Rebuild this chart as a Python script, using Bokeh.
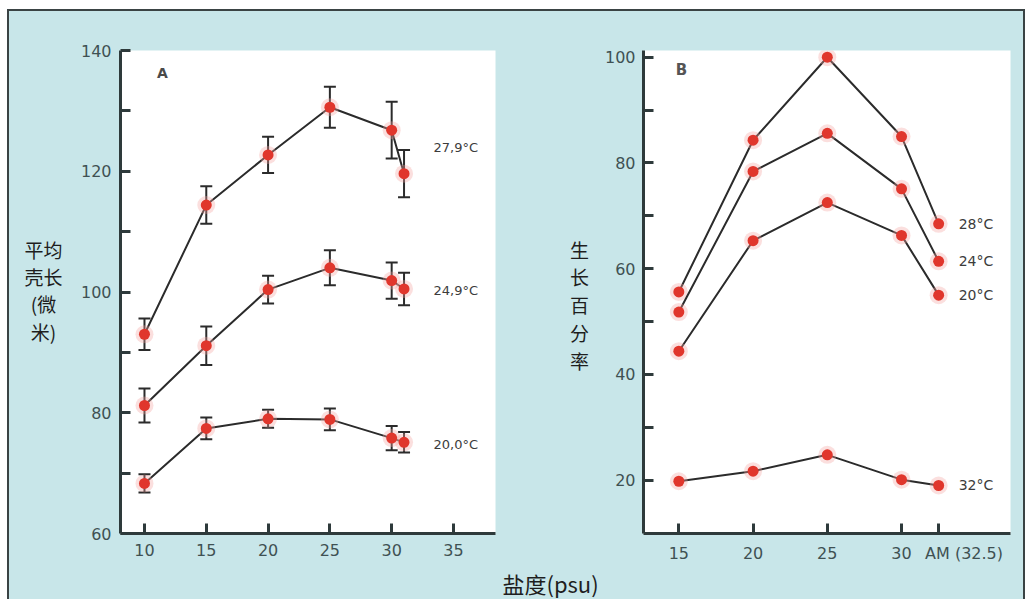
from bokeh.plotting import figure
from bokeh.layouts import row, column
from bokeh.models import (Range1d, FixedTicker, ColumnDataSource, Whisker, TeeHead,
                          Label, Div)
from bokeh.core.properties import value
from bokeh.embed import file_html
from bokeh.resources import INLINE

# ---- Panel A: mean shell length (µm) vs salinity, three temperatures ----
salinity_a = [10, 15, 20, 25, 30, 31]
len_279 = [93.0, 114.4, 122.7, 130.6, 126.8, 119.6]
err_279 = [2.6, 3.1, 3.0, 3.4, 4.7, 3.9]
len_249 = [81.2, 91.1, 100.4, 104.0, 101.9, 100.5]
err_249 = [2.8, 3.2, 2.3, 2.9, 3.0, 2.7]
len_200 = [68.3, 77.4, 79.0, 78.9, 75.8, 75.1]
err_200 = [1.5, 1.8, 1.5, 1.8, 2.0, 1.7]
temps_a = ["27,9°C", "24,9°C", "20,0°C"]
xticks_a = [10, 15, 20, 25, 30, 35]
yticks_a = [60, 80, 100, 120, 140]
yminor_a = [70, 90, 110, 130]

# ---- Panel B: growth percentage vs salinity, four temperatures ----
salinity_b = [15, 20, 25, 30, 32.5]
growth_28 = [55.6, 84.3, 100.0, 85.0, 68.5]
growth_24 = [51.8, 78.4, 85.6, 75.1, 61.4]
growth_20 = [44.4, 65.3, 72.5, 66.3, 55.0]
growth_32 = [19.8, 21.7, 24.8, 20.1, 19.0]
temps_b = ["28°C", "24°C", "20°C", "32°C"]
xticks_b = [15, 20, 25, 30, 32.5]
xlabels_b = ["15", "20", "25", "30", "AM (32.5)"]
yticks_b = [20, 40, 60, 80, 100]
yminor_b = [30, 50, 70, 90]

ylabel_a = ["平均", "壳长", "(微", "米)"]
ylabel_b = ["生", "长", "百", "分", "率"]
xlabel = "盐度(psu)"

BG = "#c8e6e9"
FRAME = "#3a4344"
DARK = "#2e3a3b"
LINE = "#2b2b2b"
RED = "#e0362c"
TICK_TXT = "#3f5153"
CJK = "Noto Sans CJK SC"
NUM = "DejaVu Sans"

TOP_H = 557      # height of the row holding both panels
STRIP_H = 31     # height of the strip carrying the shared x title


def style_axes(p):
    p.outline_line_color = None
    p.xgrid.visible = False
    p.ygrid.visible = False
    for ax in (p.xaxis[0], p.yaxis[0]):
        ax.axis_line_color = DARK
        ax.axis_line_width = 3
        ax.major_tick_line_color = DARK
        ax.major_tick_line_width = 3
        ax.minor_tick_line_color = DARK
        ax.minor_tick_line_width = 3
        ax.major_tick_in = 10
        ax.major_tick_out = 0
        ax.minor_tick_in = 10
        ax.minor_tick_out = 0
        ax.major_label_text_font = NUM
        ax.major_label_text_font_size = "16px"
        ax.major_label_text_color = TICK_TXT
    p.xaxis.major_label_standoff = 10
    p.yaxis.major_label_standoff = 9


def draw_series(p, xs, ys):
    p.line(xs, ys, line_color=LINE, line_width=2)
    p.scatter(xs, ys, size=18, fill_color="#f4a3a0", fill_alpha=0.35, line_color=None)
    p.scatter(xs, ys, size=11, fill_color=RED, line_color=None)


def text_panel(w, h, xs, ys, texts, size, align="center"):
    """A bare cyan canvas in pixel coordinates that only carries text."""
    f = figure(width=w, height=h, x_range=Range1d(0, w), y_range=Range1d(h, 0),
               min_border=0, toolbar_location=None, output_backend="svg",
               x_axis_location=None, y_axis_location=None,
               background_fill_color=BG, border_fill_color=BG)
    f.outline_line_color = None
    f.grid.visible = False
    f.text(x=xs, y=ys, text=texts, text_font=value(CJK), text_font_size=size,
           text_color="#1e1e1e", text_align=align, text_baseline="middle")
    return f


# ---------------- Panel A ----------------
pa = figure(width=490, height=TOP_H, x_range=Range1d(8.06, 38.4), y_range=Range1d(60, 140),
            output_backend="svg", toolbar_location=None,
            min_border_left=50, min_border_right=65, min_border_top=26, min_border_bottom=35,
            background_fill_color="white", border_fill_color=BG)
pa.xaxis.ticker = FixedTicker(ticks=xticks_a)
pa.yaxis.ticker = FixedTicker(ticks=yticks_a, minor_ticks=yminor_a)
style_axes(pa)

for ys, es in ((len_279, err_279), (len_249, err_249), (len_200, err_200)):
    src = ColumnDataSource(dict(x=salinity_a,
                                upper=[v + e for v, e in zip(ys, es)],
                                lower=[v - e for v, e in zip(ys, es)]))
    pa.add_layout(Whisker(source=src, base="x", upper="upper", lower="lower",
                          line_color=LINE, line_width=2,
                          upper_head=TeeHead(size=12, line_color=LINE, line_width=2),
                          lower_head=TeeHead(size=12, line_color=LINE, line_width=2)))
    draw_series(pa, salinity_a, ys)

src_ta = ColumnDataSource(dict(x=[33.38] * 3, y=[124.0, 100.3, 74.7], t=temps_a))
pa.text(x="x", y="y", text="t", source=src_ta, text_font=value(NUM), text_font_size="13px",
        text_color="#3c3c3c", text_baseline="middle", text_align="left")

pa.add_layout(Label(x=11.46, y=136.3, text="A", text_font=NUM, text_font_size="14px",
                    text_font_style="bold", text_color="#4a4a4a",
                    text_align="center", text_baseline="middle"))

# ---------------- Panel B ----------------
pb = figure(width=425, height=TOP_H, x_range=Range1d(12.62, 37.34), y_range=Range1d(9.92, 101.27),
            output_backend="svg", toolbar_location=None,
            min_border_left=45, min_border_right=13, min_border_top=39, min_border_bottom=35,
            background_fill_color="white", border_fill_color=BG)
pb.xaxis.ticker = FixedTicker(ticks=xticks_b)
pb.yaxis.ticker = FixedTicker(ticks=yticks_b, minor_ticks=yminor_b)
style_axes(pb)
pb.yaxis.major_label_standoff = 8
# the ambient-seawater label starts at its tick and runs to the right
pb.xaxis.major_label_overrides = {
    t: (lab if t != 32.5 else "\u00a0" * 10 + lab) for t, lab in zip(xticks_b, xlabels_b)
}

series_b = [growth_28, growth_24, growth_20, growth_32]
for ys in series_b:
    draw_series(pb, salinity_b, ys)

src_tb = ColumnDataSource(dict(x=[33.85] * 4, y=[s[-1] for s in series_b], t=temps_b))
pb.text(x="x", y="y", text="t", source=src_tb, text_font=value(NUM), text_font_size="14px",
        text_color="#3c3c3c", text_baseline="middle", text_align="left")

pb.add_layout(Label(x=15.18, y=97.5, text="B", text_font=NUM, text_font_size="15px",
                    text_font_style="bold", text_color="#555555",
                    text_align="center", text_baseline="middle"))

# ---------------- axis titles ----------------
title_a = text_panel(61, TOP_H, [34] * len(ylabel_a), [229, 261, 292, 324], ylabel_a, "19px")
title_b = text_panel(38, TOP_H, [19] * len(ylabel_b), [229, 261, 293, 325, 357], ylabel_b, "19px")
title_x = text_panel(1014, STRIP_H, [493], [14], [xlabel], "22px", align="left")

# ---------------- page frame ----------------
def block(w, h, color):
    return Div(text="", width=w, height=h, margin=0,
               styles={"background-color": color})


layout = column(
    block(1025, 9, "white"),
    row(block(7, 2, "white"), block(1018, 2, FRAME), spacing=0),
    row(block(7, TOP_H, "white"), block(2, TOP_H, FRAME), title_a, pa, title_b, pb,
        block(2, TOP_H, FRAME), spacing=0, styles={"background-color": BG}),
    row(block(7, STRIP_H, "white"), block(2, STRIP_H, FRAME), title_x,
        block(2, STRIP_H, FRAME), spacing=0, styles={"background-color": BG}),
    spacing=0,
)

open("out.html", "w").write(file_html(layout, INLINE))
